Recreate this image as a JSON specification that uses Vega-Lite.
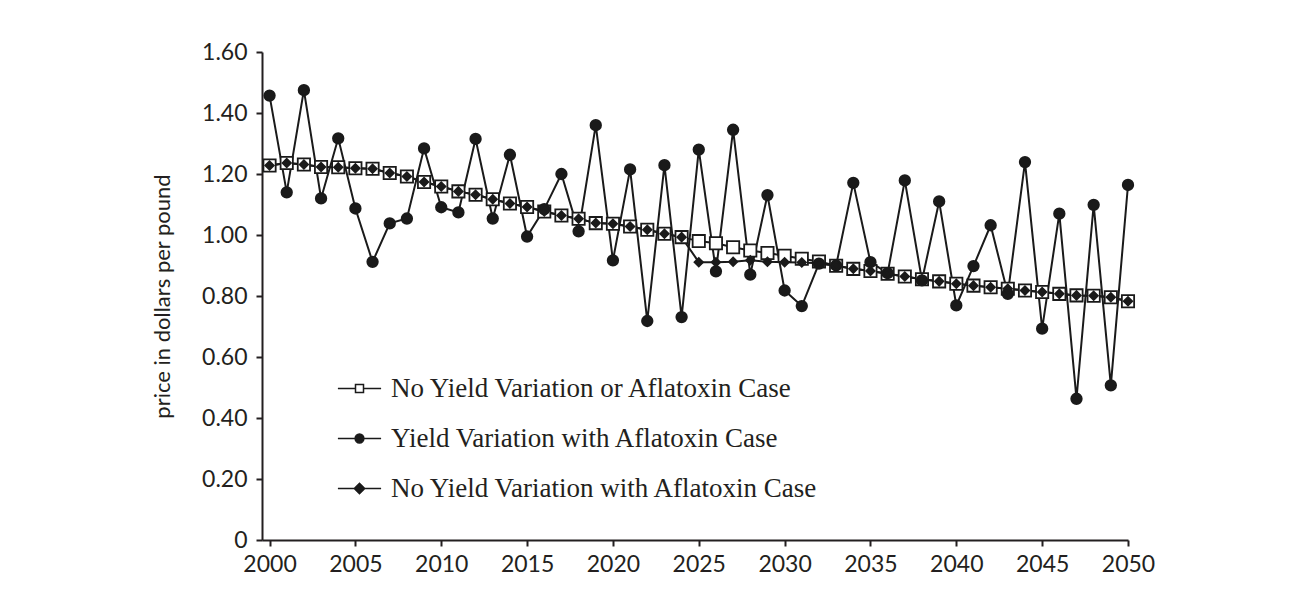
{
  "$schema": "https://vega.github.io/schema/vega-lite/v6.json",
  "width": 866,
  "height": 488,
  "autosize": "none",
  "padding": {"left": 262, "top": 52, "right": 165, "bottom": 61},
  "background": "white",
  "config": {
    "view": {"stroke": null},
    "axis": {"labelFont": "Lato", "titleFont": "Lato", "labelColor": "#231f20", "titleColor": "#231f20", "domainColor": "#231f20", "tickColor": "#231f20", "domainWidth": 2, "tickWidth": 2, "grid": false, "labelFlush": false},
    "legend": {"labelFont": "Liberation Serif", "labelFontSize": 27, "labelColor": "#231f20", "labelLimit": 0, "padding": 0}
  },
  "data": {
    "values": [
      {"year": 2000, "base": 1.228, "yield": 1.457, "noyield": 1.228},
      {"year": 2001, "base": 1.236, "yield": 1.14, "noyield": 1.236},
      {"year": 2002, "base": 1.231, "yield": 1.475, "noyield": 1.231},
      {"year": 2003, "base": 1.223, "yield": 1.12, "noyield": 1.223},
      {"year": 2004, "base": 1.222, "yield": 1.317, "noyield": 1.222},
      {"year": 2005, "base": 1.219, "yield": 1.087, "noyield": 1.219},
      {"year": 2006, "base": 1.217, "yield": 0.912, "noyield": 1.217},
      {"year": 2007, "base": 1.203, "yield": 1.038, "noyield": 1.203},
      {"year": 2008, "base": 1.192, "yield": 1.054, "noyield": 1.192},
      {"year": 2009, "base": 1.174, "yield": 1.284, "noyield": 1.174},
      {"year": 2010, "base": 1.159, "yield": 1.091, "noyield": 1.159},
      {"year": 2011, "base": 1.143, "yield": 1.074, "noyield": 1.143},
      {"year": 2012, "base": 1.132, "yield": 1.315, "noyield": 1.132},
      {"year": 2013, "base": 1.117, "yield": 1.054, "noyield": 1.117},
      {"year": 2014, "base": 1.103, "yield": 1.263, "noyield": 1.103},
      {"year": 2015, "base": 1.092, "yield": 0.995, "noyield": 1.092},
      {"year": 2016, "base": 1.077, "yield": 1.085, "noyield": 1.077},
      {"year": 2017, "base": 1.064, "yield": 1.2, "noyield": 1.064},
      {"year": 2018, "base": 1.053, "yield": 1.012, "noyield": 1.053},
      {"year": 2019, "base": 1.039, "yield": 1.36, "noyield": 1.039},
      {"year": 2020, "base": 1.037, "yield": 0.917, "noyield": 1.037},
      {"year": 2021, "base": 1.028, "yield": 1.215, "noyield": 1.028},
      {"year": 2022, "base": 1.017, "yield": 0.718, "noyield": 1.017},
      {"year": 2023, "base": 1.004, "yield": 1.229, "noyield": 1.004},
      {"year": 2024, "base": 0.993, "yield": 0.731, "noyield": 0.993},
      {"year": 2025, "base": 0.98, "yield": 1.28, "noyield": 0.911},
      {"year": 2026, "base": 0.973, "yield": 0.881, "noyield": 0.911},
      {"year": 2027, "base": 0.96, "yield": 1.345, "noyield": 0.912},
      {"year": 2028, "base": 0.949, "yield": 0.87, "noyield": 0.917},
      {"year": 2029, "base": 0.941, "yield": 1.131, "noyield": 0.912},
      {"year": 2030, "base": 0.932, "yield": 0.818, "noyield": 0.911},
      {"year": 2031, "base": 0.922, "yield": 0.767, "noyield": 0.91},
      {"year": 2032, "base": 0.913, "yield": 0.906, "noyield": 0.907},
      {"year": 2033, "base": 0.899, "yield": 0.9, "noyield": 0.899},
      {"year": 2034, "base": 0.889, "yield": 1.171, "noyield": 0.889},
      {"year": 2035, "base": 0.882, "yield": 0.911, "noyield": 0.882},
      {"year": 2036, "base": 0.873, "yield": 0.875, "noyield": 0.873},
      {"year": 2037, "base": 0.864, "yield": 1.179, "noyield": 0.864},
      {"year": 2038, "base": 0.855, "yield": 0.851, "noyield": 0.855},
      {"year": 2039, "base": 0.848, "yield": 1.11, "noyield": 0.848},
      {"year": 2040, "base": 0.84, "yield": 0.769, "noyield": 0.84},
      {"year": 2041, "base": 0.834, "yield": 0.898, "noyield": 0.834},
      {"year": 2042, "base": 0.829, "yield": 1.032, "noyield": 0.829},
      {"year": 2043, "base": 0.824, "yield": 0.807, "noyield": 0.824},
      {"year": 2044, "base": 0.818, "yield": 1.239, "noyield": 0.818},
      {"year": 2045, "base": 0.813, "yield": 0.693, "noyield": 0.813},
      {"year": 2046, "base": 0.807, "yield": 1.07, "noyield": 0.807},
      {"year": 2047, "base": 0.802, "yield": 0.463, "noyield": 0.802},
      {"year": 2048, "base": 0.801, "yield": 1.099, "noyield": 0.801},
      {"year": 2049, "base": 0.796, "yield": 0.507, "noyield": 0.796},
      {"year": 2050, "base": 0.783, "yield": 1.164, "noyield": 0.783}
    ]
  },
  "transform": [
    {"fold": ["base", "yield", "noyield"], "as": ["series", "price"]}
  ],
  "encoding": {
    "x": {
      "field": "year", "type": "quantitative",
      "scale": {"domain": [1999.56, 2050], "nice": false, "zero": false},
      "axis": {
        "title": null, "values": [2000, 2005, 2010, 2015, 2020, 2025, 2030, 2035, 2040, 2045, 2050],
        "format": "d", "labelFontSize": 23, "labelPadding": 7, "tickSize": 6,
        "encode": {"ticks": {"update": {"y": {"value": -3.5}}}}
      }
    },
    "y": {
      "field": "price", "type": "quantitative",
      "scale": {"domain": [0, 1.6], "nice": false},
      "axis": {
        "title": "price in dollars per pound", "titleFontSize": 22, "titleFontWeight": "normal", "titlePadding": 27,
        "values": [0, 0.2, 0.4, 0.6, 0.8, 1.0, 1.2, 1.4, 1.6],
        "labelExpr": "datum.value === 0 ? '0' : format(datum.value, '.2f')",
        "labelFontSize": 23, "labelPadding": 9, "tickSize": 6,
        "encode": {"ticks": {"update": {"x": {"value": 4}}}}
      }
    }
  },
  "resolve": {"scale": {"shape": "independent", "fill": "independent", "size": "independent"}},
  "layer": [
    {
      "mark": {"type": "line", "color": "#1a1a1a", "strokeWidth": 2},
      "encoding": {"detail": {"field": "series"}}
    },
    {
      "mark": {"type": "point", "filled": true, "opacity": 1, "stroke": "#1a1a1a", "strokeWidth": 1.8},
      "encoding": {
        "fill": {
          "field": "series", "type": "nominal",
          "scale": {"domain": ["base", "yield", "noyield"], "range": ["white", "#1a1a1a", "#1a1a1a"]},
          "legend": null
        },
        "shape": {
          "field": "series", "type": "nominal",
          "scale": {"domain": ["base", "yield", "noyield"], "range": ["square", "circle", "diamond"]},
          "legend": null
        },
        "size": {
          "field": "series", "type": "nominal",
          "scale": {"domain": ["base", "yield", "noyield"], "range": [150, 72, 100]},
          "legend": null
        }
      }
    },
    {
      "transform": [{"filter": "datum.year > 3000"}],
      "mark": {"type": "point", "filled": true, "opacity": 1, "stroke": "#1a1a1a", "strokeWidth": 1.5},
      "encoding": {
        "fill": {
          "field": "series", "type": "nominal",
          "scale": {"domain": ["base", "yield", "noyield"], "range": ["white", "#1a1a1a", "#1a1a1a"]},
          "legend": {
            "title": null, "orient": "none", "legendX": 84, "legendY": 323,
            "labelExpr": "datum.value === 'base' ? 'No Yield Variation or Aflatoxin Case' : datum.value === 'yield' ? 'Yield Variation with Aflatoxin Case' : 'No Yield Variation with Aflatoxin Case'",
            "labelOffset": 18, "rowPadding": 22, "symbolSize": 64, "symbolStrokeWidth": 1.5
          }
        },
        "shape": {
          "field": "series", "type": "nominal",
          "scale": {"domain": ["base", "yield", "noyield"], "range": ["M-5.4,0H-1M1,0H5.4M-1,-1H1V1H-1Z", "M-5.4,0H-1.1M1.1,0H5.4M1.1,0A1.1,1.1 0 1,1 -1.1,0A1.1,1.1 0 1,1 1.1,0Z", "M-5.4,0H-1.3M1.3,0H5.4M-1.3,0L0,-1.3L1.3,0L0,1.3Z"]},
          "legend": {
            "title": null, "orient": "none", "legendX": 84, "legendY": 323,
            "labelExpr": "datum.value === 'base' ? 'No Yield Variation or Aflatoxin Case' : datum.value === 'yield' ? 'Yield Variation with Aflatoxin Case' : 'No Yield Variation with Aflatoxin Case'",
            "labelOffset": 18, "rowPadding": 22, "symbolSize": 64, "symbolStrokeWidth": 1.5
          }
        }
      }
    }
  ]
}
